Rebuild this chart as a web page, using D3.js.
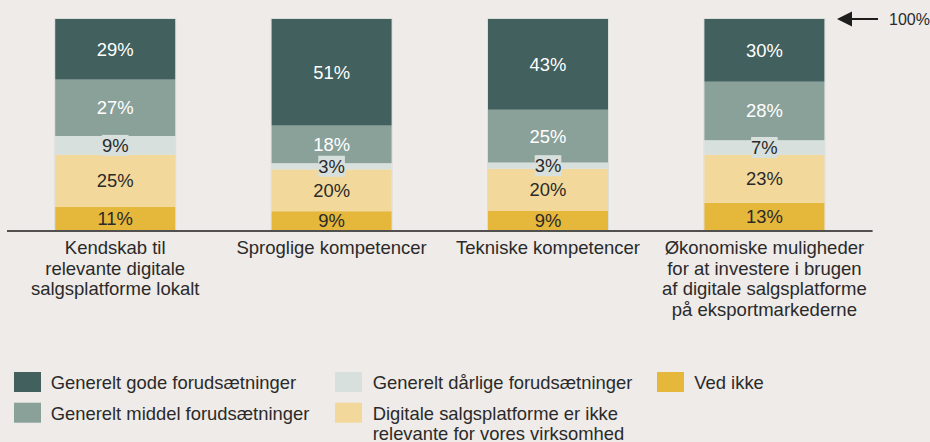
<!DOCTYPE html>
<html>
<head>
<meta charset="utf-8">
<script src="https://cdn.jsdelivr.net/npm/d3@7"></script>
<style>
  html, body { margin: 0; padding: 0; background: #eeebe8; }
  svg { display: block; font-family: "Liberation Sans", Arial, sans-serif; }
</style>
</head>
<body>
<svg id="chart" width="930" height="442"></svg>
<script>
// ---- Data ----
const categories = [
  "Kendskab til relevante digitale salgsplatforme lokalt",
  "Sproglige kompetencer",
  "Tekniske kompetencer",
  "Økonomiske muligheder for at investere i brugen af digitale salgsplatforme på eksportmarkederne"
];
const categoryLines = [
  ["Kendskab til", "relevante digitale", "salgsplatforme lokalt"],
  ["Sproglige kompetencer"],
  ["Tekniske kompetencer"],
  ["Økonomiske muligheder", "for at investere i brugen", "af digitale salgsplatforme", "på eksportmarkederne"]
];
// stack order: bottom -> top
const seriesKeys = ["vedIkke", "digitale", "daarlige", "middel", "gode"];
const seriesNames = [
  "Ved ikke",
  "Digitale salgsplatforme er ikke relevante for vores virksomhed",
  "Generelt dårlige forudsætninger",
  "Generelt middel forudsætninger",
  "Generelt gode forudsætninger"
];
const vedIkke  = [11, 9, 9, 13];
const digitale = [25, 20, 20, 23];
const daarlige = [9, 3, 3, 7];
const middel   = [27, 18, 25, 28];
const gode     = [29, 51, 43, 30];
const topLabel = "100%";

// legend layout (column-major)
const legendItems = [
  { key: "gode",     lines: ["Generelt gode forudsætninger"] },
  { key: "middel",   lines: ["Generelt middel forudsætninger"] },
  { key: "daarlige", lines: ["Generelt dårlige forudsætninger"] },
  { key: "digitale", lines: ["Digitale salgsplatforme er ikke", "relevante for vores virksomhed"] },
  { key: "vedIkke",  lines: ["Ved ikke"] }
];

// ---- Styles ----
const colors = {
  gode: "#41605e",
  middel: "#8aa19a",
  daarlige: "#d8e0dd",
  digitale: "#f2d99b",
  vedIkke: "#e5b73b"
};
const labelColors = {
  gode: "#ffffff",
  middel: "#ffffff",
  daarlige: "#2a2a2a",
  digitale: "#2a2a2a",
  vedIkke: "#2a2a2a"
};
const textColor = "#2a2a2a";

const seriesValues = { vedIkke, digitale, daarlige, middel, gode };
const table = categories.map((c, i) => {
  const row = { category: c };
  seriesKeys.forEach(k => row[k] = seriesValues[k][i]);
  return row;
});

const svg = d3.select("#chart");

const x = d3.scaleBand()
  .domain(categories)
  .range([7, 872.6])
  .paddingInner(0.4455)
  .paddingOuter(0.2228);

const y = d3.scaleLinear().domain([0, 1]).range([230, 19]);

const stack = d3.stack().keys(seriesKeys).offset(d3.stackOffsetExpand);
const stacked = stack(table);

// faint outline of full bar
svg.append("g").selectAll("rect")
  .data(categories)
  .join("rect")
  .attr("x", d => x(d) - 0.5)
  .attr("y", y(1) - 0.5)
  .attr("width", x.bandwidth() + 1)
  .attr("height", y(0) - y(1) + 0.5)
  .attr("fill", "none")
  .attr("stroke", "#dcdedb")
  .attr("stroke-width", 1);

const layers = svg.append("g").selectAll("g")
  .data(stacked)
  .join("g")
  .attr("fill", d => colors[d.key]);

layers.selectAll("rect")
  .data(d => d)
  .join("rect")
  .attr("x", d => x(d.data.category))
  .attr("y", d => y(d[1]))
  .attr("width", x.bandwidth())
  .attr("height", d => y(d[0]) - y(d[1]));

// value labels
const labelG = svg.append("g");
stacked.forEach(layer => {
  layer.forEach(d => {
    const cx = x(d.data.category) + x.bandwidth() / 2;
    const cy = (y(d[0]) + y(d[1])) / 2;
    const txt = d.data[layer.key] + "%";
    if (layer.key === "daarlige") {
      const w = txt.length * 10.3 + 6;
      labelG.append("rect")
        .attr("x", cx - w / 2)
        .attr("y", cy - 10.5)
        .attr("width", w)
        .attr("height", 21)
        .attr("fill", colors.daarlige);
    }
    labelG.append("text")
      .attr("x", cx)
      .attr("y", cy)
      .attr("dy", "0.35em")
      .attr("text-anchor", "middle")
      .attr("font-size", 18.4)
      .attr("fill", labelColors[layer.key])
      .text(txt);
  });
});

// baseline
svg.append("line")
  .attr("x1", x.range()[0])
  .attr("x2", x.range()[1])
  .attr("y1", y(0) + 1)
  .attr("y2", y(0) + 1)
  .attr("stroke", "#1e1e1e")
  .attr("stroke-width", 1.6);

// category labels
const catG = svg.append("g");
categories.forEach((c, i) => {
  const t = catG.append("text")
    .attr("text-anchor", "middle")
    .attr("font-size", 18.5)
    .attr("fill", textColor);
  categoryLines[i].forEach((line, j) => {
    t.append("tspan")
      .attr("x", x(c) + x.bandwidth() / 2)
      .attr("y", 254 + j * 20.6)
      .text(line);
  });
});

// 100% arrow
const ay = y(1);
svg.append("line")
  .attr("x1", 878).attr("x2", 848)
  .attr("y1", ay).attr("y2", ay)
  .attr("stroke", "#1e1e1e").attr("stroke-width", 2);
svg.append("path")
  .attr("d", `M837,${ay} L852,${ay - 7.5} L852,${ay + 7.5} Z`)
  .attr("fill", "#1e1e1e");
svg.append("text")
  .attr("x", 889).attr("y", ay)
  .attr("dy", "0.35em")
  .attr("font-size", 16)
  .attr("fill", textColor)
  .text(topLabel);

// legend
const legendPos = [
  { sx: 14, tx: 50.7, row: 0 },
  { sx: 14, tx: 50.7, row: 1 },
  { sx: 335, tx: 372.7, row: 0 },
  { sx: 335, tx: 372.7, row: 1 },
  { sx: 657, tx: 694.3, row: 0 }
];
const legendRowY = [372, 402.7];
const legendG = svg.append("g");
legendItems.forEach((item, i) => {
  const p = legendPos[i];
  const top = legendRowY[p.row];
  legendG.append("rect")
    .attr("x", p.sx).attr("y", top)
    .attr("width", 27).attr("height", 20)
    .attr("fill", colors[item.key]);
  const t = legendG.append("text")
    .attr("font-size", 18.4)
    .attr("fill", textColor);
  item.lines.forEach((line, j) => {
    t.append("tspan")
      .attr("x", p.tx)
      .attr("y", top + 17 + j * 19.8)
      .text(line);
  });
});
</script>
</body>
</html>
